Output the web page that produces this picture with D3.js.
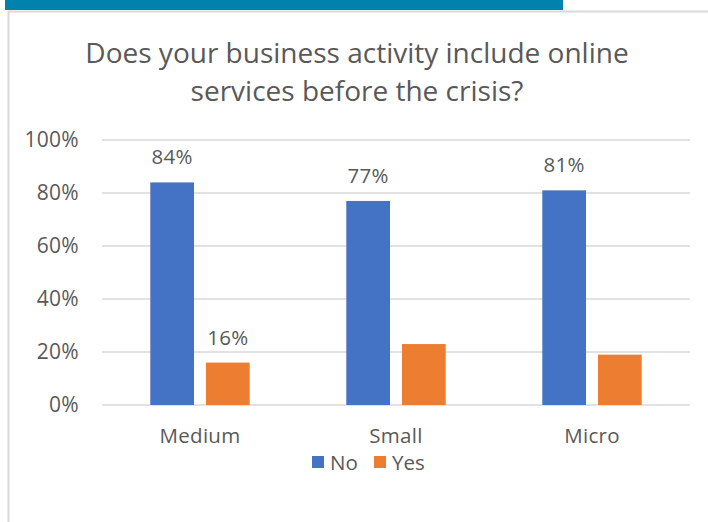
<!DOCTYPE html>
<html><head><meta charset="utf-8">
<script src="https://cdn.jsdelivr.net/npm/d3@7"></script>
<style>body{margin:0;background:#fff}svg{display:block}text{font-family:"Open Sans",sans-serif;fill:#595959}</style>
</head><body><svg id="c" width="708" height="522"></svg>
<script>
const categories = ["Medium","Small","Micro"];
const seriesNames = ["No","Yes"];
const noValues = [0.84,0.77,0.81];
const yesValues = [0.16,0.23,0.19];
const yTicks = [0,0.2,0.4,0.6,0.8,1.0];
const titleLines = ["Does your business activity include online","services before the crisis?"];
const colors = {No:"#4472C4", Yes:"#ED7D31"};

(function(){
const svg = d3.select("#c");
svg.append("rect").attr("x",5).attr("y",0).attr("width",558).attr("height",10).attr("fill","#0082AD");
svg.append("path").attr("d","M8.5,522 V11.5 H708").attr("fill","none").attr("stroke","#d9d9d9").attr("stroke-width",2);

const pLeft=102,pRight=690,pTop=140,pBottom=405;
const y = d3.scaleLinear().domain([0,1]).range([pBottom,pTop]);
const x0 = d3.scaleBand().domain(categories).range([pLeft,pRight]).paddingInner(0).paddingOuter(0);
const x1 = d3.scaleBand().domain(seriesNames).range([-49.7,49.7]).paddingInner(0.215).paddingOuter(0);

svg.append("g").selectAll("text").data(titleLines).join("text")
  .attr("x",357).attr("y",(d,i)=>63+i*38).attr("text-anchor","middle")
  .style("font-size","28px").text(d=>d);

svg.append("g").selectAll("line").data(yTicks).join("line")
  .attr("x1",pLeft).attr("x2",pRight).attr("y1",d=>y(d)).attr("y2",d=>y(d))
  .attr("stroke","#d9d9d9").attr("stroke-width",1.5);

const yAxis = d3.axisLeft(y).tickValues(yTicks).tickFormat(d3.format(".0%")).tickSize(0).tickPadding(0);
const ya = svg.append("g").attr("transform","translate(79,0)").call(yAxis);
ya.select(".domain").remove();
ya.selectAll("text").style("font-size","21px").style("letter-spacing","0.3px").style("font-family","'Open Sans',sans-serif").attr("fill","#595959");

const xAxis = d3.axisBottom(x0).tickSize(0).tickPadding(0);
const xa = svg.append("g").attr("transform","translate(0,428)").call(xAxis);
xa.select(".domain").remove();
xa.selectAll("text").style("font-size","20.5px").style("letter-spacing","0.3px").style("font-family","'Open Sans',sans-serif").attr("fill","#595959");

const rows = categories.map((c,i)=>({cat:c, vals:[{s:"No",v:noValues[i]},{s:"Yes",v:yesValues[i]}]}));
const g = svg.append("g").selectAll("g").data(rows).join("g")
  .attr("transform",d=>`translate(${x0(d.cat)+x0.bandwidth()/2},0)`);
g.selectAll("rect").data(d=>d.vals).join("rect")
  .attr("x",d=>x1(d.s)).attr("width",x1.bandwidth())
  .attr("y",d=>y(d.v)).attr("height",d=>y(0)-y(d.v)).attr("fill",d=>colors[d.s]);
const labelled = [{cat:"Medium",s:"No",v:noValues[0]},{cat:"Medium",s:"Yes",v:yesValues[0]},{cat:"Small",s:"No",v:noValues[1]},{cat:"Micro",s:"No",v:noValues[2]}];
svg.append("g").selectAll("text").data(labelled).join("text")
  .attr("x",d=>x0(d.cat)+x0.bandwidth()/2+x1(d.s)+x1.bandwidth()/2)
  .attr("y",d=>y(d.v)-18).attr("text-anchor","middle").style("font-size","20.5px").style("letter-spacing","0.3px")
  .text(d=>d3.format(".0%")(d.v));

const lg = svg.append("g").attr("transform","translate(312,456)");
const items = [{s:"No",x:0},{s:"Yes",x:62}];
const li = lg.selectAll("g").data(items).join("g").attr("transform",d=>`translate(${d.x},0)`);
li.append("rect").attr("width",12).attr("height",12).attr("fill",d=>colors[d.s]);
li.append("text").attr("x",18).attr("y",13.5).style("font-size","20.5px").text(d=>d.s);
})();
</script></body></html>
